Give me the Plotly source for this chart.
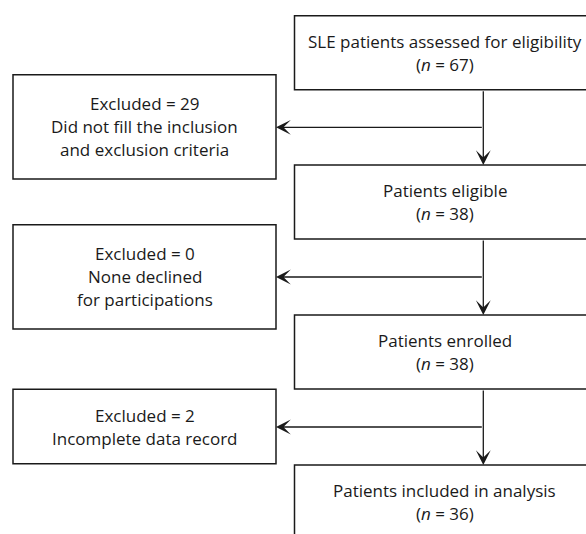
import plotly.graph_objects as go

# ---- data ----
main_labels = ["SLE patients assessed for eligibility", "Patients eligible",
               "Patients enrolled", "Patients included in analysis"]
main_n = [67, 38, 38, 36]
excluded_n = [29, 0, 2]
excluded_reasons = [["Did not fill the inclusion", "and exclusion criteria"],
                    ["None declined", "for participations"],
                    ["Incomplete data record"]]

# ---- layout geometry (pixel space) ----
W, H = 586, 534
main_x0, main_x1 = 294.5, 594
main_cx = 444.5
spine_x = 483.3
main_top = [15.7, 165, 315, 465]
main_h = 74
left_x0, left_x1 = 13, 276
left_cx = 144.5
left_top = [74.7, 224.7, 389.3]
left_bot = [179, 329, 463.7]
line_gap = 23
LINE = "#1a1a1a"
FONT = dict(family="Open Sans", size=17, color="#1a1a1a")

fig = go.Figure()
fig.add_trace(go.Scatter(x=[0, W], y=[0, H], mode="markers",
                         marker=dict(opacity=0), hoverinfo="skip", showlegend=False))

shapes = []
annotations = []

def add_lines(cx, cy, lines):
    n = len(lines)
    for i, t in enumerate(lines):
        y = cy + (i - (n - 1) / 2) * line_gap
        annotations.append(dict(x=cx, y=y, xref="x", yref="y", text=t, showarrow=False,
                                font=FONT, xanchor="center", yanchor="middle"))

for i, (lab, n) in enumerate(zip(main_labels, main_n)):
    t = main_top[i]
    shapes.append(dict(type="rect", xref="x", yref="y", x0=main_x0, x1=main_x1,
                       y0=t, y1=t + main_h, line=dict(color=LINE, width=1.5),
                       fillcolor="white", layer="below"))
    add_lines(main_cx, t + main_h / 2, [lab, f"(<i>n</i> = {n})"])

for i, (ex, reasons) in enumerate(zip(excluded_n, excluded_reasons)):
    t, b = left_top[i], left_bot[i]
    shapes.append(dict(type="rect", xref="x", yref="y", x0=left_x0, x1=left_x1,
                       y0=t, y1=b, line=dict(color=LINE, width=1.5),
                       fillcolor="white", layer="below"))
    add_lines(left_cx, (t + b) / 2, [f"Excluded = {ex}"] + reasons)

# arrows
for i in range(3):
    y_from = main_top[i] + main_h
    y_to = main_top[i + 1]
    annotations.append(dict(x=spine_x, y=y_to, ax=spine_x, ay=y_from, xref="x", yref="y",
                            axref="x", ayref="y", text="", showarrow=True, arrowhead=3,
                            arrowsize=1.9, arrowwidth=1.3, arrowcolor=LINE, standoff=0))
    ya = (y_from + y_to) / 2
    annotations.append(dict(x=left_x1, y=ya, ax=spine_x, ay=ya, xref="x", yref="y",
                            axref="x", ayref="y", text="", showarrow=True, arrowhead=3,
                            arrowsize=1.9, arrowwidth=1.3, arrowcolor=LINE, standoff=0))

fig.update_layout(
    width=W, height=H, margin=dict(l=0, r=0, t=0, b=0),
    paper_bgcolor="white", plot_bgcolor="white",
    xaxis=dict(range=[0, W], visible=False, fixedrange=True),
    yaxis=dict(range=[H, 0], visible=False, fixedrange=True),
    shapes=shapes, annotations=annotations, showlegend=False,
)

fig.write_html("out.html", config={"displayModeBar": False},
               post_script="document.body.style.margin='0';document.body.style.overflow='hidden';")
